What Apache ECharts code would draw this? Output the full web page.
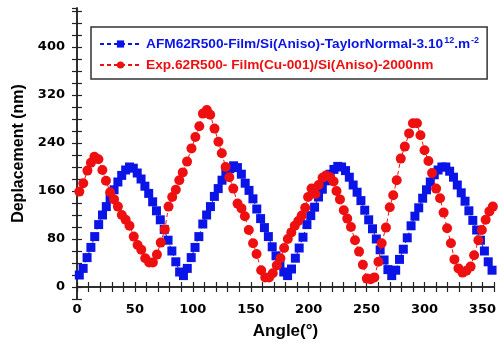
<!DOCTYPE html>
<html>
<head>
<meta charset="utf-8">
<script src="https://cdn.jsdelivr.net/npm/echarts@6/dist/echarts.min.js"></script>
<style>html,body{margin:0;padding:0;background:#fff}#c{width:499px;height:350px}</style>
</head>
<body>
<div id="c"></div>
<script>
const blueName = 'AFM62R500-Film/Si(Aniso)-TaylorNormal-3.10.m-2';
const redName = 'Exp.62R500- Film(Cu-001)/Si(Aniso)-2000nm';

const blueAngle = [2.0,5.3,8.7,12.0,15.3,18.7,22.0,25.3,28.6,32.0,35.3,38.6,42.0,45.3,48.6,52.0,55.3,58.6,61.9,65.3,68.6,71.9,75.3,78.6,81.9,85.3,88.6,
  91.9,95.2,98.6,101.9,105.2,108.6,111.9,115.2,118.6,121.9,125.2,128.5,131.9,135.2,138.5,141.9,145.2,148.5,151.9,155.2,158.5,161.8,165.2,168.5,171.8,175.2,178.5,
  181.8,185.2,188.5,191.8,195.1,198.5,201.8,205.1,208.5,211.8,215.1,218.5,221.8,225.1,228.4,231.8,235.1,238.4,241.8,245.1,248.4,251.8,255.1,258.4,261.7,265.1,268.4,
  271.7,275.1,278.4,281.7,285.1,288.4,291.7,295.0,298.4,301.7,305.0,308.4,311.7,315.0,318.4,321.7,325.0,328.3,331.7,335.0,338.3,341.7,345.0,348.3,351.7,355.0,358.3];
const blueValue = [20,31,49,66,84,104,120,134,148,162,175,186,195,200,198,190,180,168,156,142,127,112,96,78,60,42,25,
  19,31,49,66,84,105,120,134,151,164,178,189,197,202,199,188,173,161,147,130,114,99,84,67,52,38,25,
  19,30,48,65,83,104,119,133,150,163,177,188,196,201,200,194,183,170,158,144,128,112,97,80,62,45,29,
  19,28,46,63,82,102,118,132,148,162,175,187,195,200,200,193,183,170,157,143,127,111,95,78,60,42,28];

const redAngle = [2,5.4,9,12,15,18.5,21.9,25,28.6,32,35.3,38.7,42,45.3,49,52.3,55.5,58.9,62.3,65.5,69,72.3,75.8,79,82.2,85.3,88.3,
  91.3,95,98.8,102.2,105.6,108.7,112.1,115,118.7,122.1,125,128.3,131.5,134.9,138.6,142,144.9,148.3,152,155,159,162.5,165.8,169,172.5,175.6,178.8,
  182,185,188,191,194,197,199.5,202.5,205.8,208.6,212,215,218.5,221.5,224,227,230.3,233.3,236.5,240,243.5,246.8,250.2,253.5,256.7,
  260.2,263,266.7,270,273,276,279.5,283,286.7,290,293.5,296.5,300,303.4,306.5,310,313.4,316.5,319.5,322.8,325.8,329.3,332.8,336.2,339.8,342.8,346.5,349.5,352.8,356,359];
const redValue = [159,173,194,207,217,213,195,177,158,146,134,120,112,102,84,70,62,48,41,41,54,74,96,134,150,162,178,
  191,209,231,250,268,289,295,287,264,242,223,200,183,164,139,131,118,95,73,55,28,16,16,23,36,48,65,
  80,91,102,110,119,132,150,164,155,170,182,186,183,176,160,146,128,114,100,78,59,37,14,13,16,
  42,73,99,133,153,178,214,234,256,273,273,253,228,210,190,164,148,124,98,73,46,31,24,27,34,53,78,95,112,126,134];

const yLabelEvery = 80;
const xLabelEvery = 50;

const blueColor = '#0a14e6';
const redColor = '#ee1010';
const axisColor = '#222';
const tickFont = {fontFamily: 'DejaVu Sans', fontWeight: 'bold', fontSize: 13, color: '#000'};

const chart = echarts.init(document.getElementById('c'), null, {renderer: 'canvas'});
const axisCommon = {
  axisLine: {show: true, lineStyle: {color: axisColor, width: 1.5}},
  axisTick: {show: true, inside: true, length: 5, lineStyle: {color: axisColor, width: 1.2}},
  splitLine: {show: false}
};
chart.setOption({
  animation: false,
  backgroundColor: '#fff',
  grid: {left: 77, right: -1, top: 8, bottom: 51, containLabel: false},
  legend: {
    left: 91, top: 27, orient: 'vertical',
    padding: [9, 8, 7, 8], itemGap: 7,
    itemWidth: 41, itemHeight: 9,
    borderColor: '#333', borderWidth: 1.5, backgroundColor: '#fff',
    data: [
      {name: blueName, textStyle: {color: blueColor}},
      {name: redName, textStyle: {color: redColor}}
    ],
    formatter: function (name) {
      if (name === blueName) {
        return '{t|AFM62R500-Film/Si(Aniso)-TaylorNormal-3.10}{s|12}{t|.m}{s|-2}';
      }
      return '{t|' + name + '}';
    },
    textStyle: {
      fontFamily: 'Liberation Sans', fontWeight: 'bold', fontSize: 13.7,
      rich: {
        t: {fontFamily: 'Liberation Sans', fontWeight: 'bold', fontSize: 13.7, lineHeight: 16},
        s: {fontFamily: 'Liberation Sans', fontWeight: 'bold', fontSize: 9, lineHeight: 16, verticalAlign: 'top', padding: [0, 0, 6, 1]}
      }
    }
  },
  xAxis: [
    Object.assign({
      type: 'value', min: 0, max: 360, interval: 10, position: 'bottom',
      name: 'Angle(°)', nameLocation: 'middle', nameGap: 24,
      nameTextStyle: {fontFamily: 'Liberation Sans', fontWeight: 'bold', fontSize: 17, color: '#000'},
      axisLabel: Object.assign({margin: 4, formatter: v => (v % xLabelEvery === 0 ? String(v) : '')}, tickFont)
    }, axisCommon),
    Object.assign({
      type: 'value', min: 0, max: 360, interval: 10, position: 'top',
      axisLabel: {show: false}
    }, axisCommon)
  ],
  yAxis: [
    Object.assign({
      type: 'value', min: -20, max: 465, interval: 20, position: 'left',
      name: 'Deplacement (nm)', nameLocation: 'middle', nameGap: 40, nameRotate: 90,
      nameTextStyle: {fontFamily: 'Liberation Sans', fontWeight: 'bold', fontSize: 16, color: '#000'},
      axisLabel: Object.assign({margin: 12, showMaxLabel: false, formatter: v => (v % yLabelEvery === 0 ? String(v) : '')}, tickFont)
    }, axisCommon),
    Object.assign({
      type: 'value', min: -20, max: 465, interval: 20, position: 'right',
      axisLabel: {show: false}
    }, axisCommon)
  ],
  series: [
    {
      name: blueName, type: 'line', xAxisIndex: 0, yAxisIndex: 0,
      data: blueAngle.map((a, i) => [a, blueValue[i]]),
      symbol: 'rect', symbolSize: 9, showAllSymbol: true,
      itemStyle: {color: blueColor},
      lineStyle: {color: blueColor, width: 1, type: [4, 3]},
      z: 2
    },
    {
      name: redName, type: 'line', xAxisIndex: 0, yAxisIndex: 0,
      data: redAngle.map((a, i) => [a, redValue[i]]),
      symbol: 'circle', symbolSize: 10, showAllSymbol: true,
      itemStyle: {color: redColor},
      lineStyle: {color: redColor, width: 1, type: [4, 3]},
      z: 3
    }
  ]
});
</script>
</body>
</html>
